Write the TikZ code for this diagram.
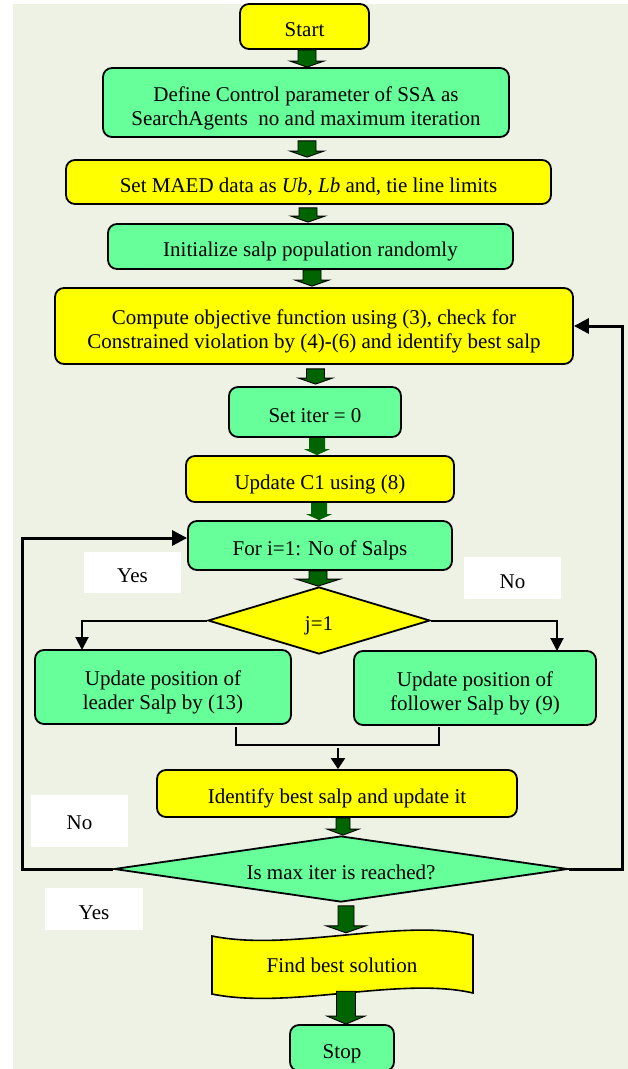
\documentclass[tikz,border=0pt]{standalone}
\usepackage{fontspec}
\setmainfont{Liberation Serif}
\usetikzlibrary{shapes.geometric,arrows.meta,calc}
\definecolor{bgc}{RGB}{238,242,229}
\definecolor{yel}{RGB}{255,255,0}
\definecolor{grn}{RGB}{102,255,153}
\definecolor{dgrn}{RGB}{0,100,0}
\newcommand\mytop{\rule{0pt}{25pt}}
\newcommand\mytopb{\rule{0pt}{26pt}}
\newcommand\mybot{\rule[-5pt]{0pt}{5pt}}
% block arrow: [style]{x}{from}{to}{shaft half}{head half}{head length}
\newcommand\blockarr[7][draw=black,line width=0.9pt]{%
  \path[fill=dgrn,#1] let \p1=#3, \p2=#4 in
    (#2pt-#5pt,\y1) -- (#2pt+#5pt,\y1) -- (#2pt+#5pt,\y2+#7pt)
    -- (#2pt+#6pt,\y2+#7pt) -- (#2pt,\y2) -- (#2pt-#6pt,\y2+#7pt)
    -- (#2pt-#5pt,\y2+#7pt) -- cycle;}
\begin{document}
\begin{tikzpicture}[x=1pt,y=-1pt,
  txt/.style={font=\fontsize{21}{24}\selectfont, align=center},
  box/.style={txt, draw=black, line width=1.8pt, rounded corners=9pt, inner sep=0pt},
  ybox/.style={box, fill=yel},
  gbox/.style={box, fill=grn},
  dec/.style={txt, diamond, draw=black, line width=1.8pt, inner sep=0pt},
  lab/.style={txt, fill=white, inner sep=0pt},
  loopline/.style={line width=3pt, -{Triangle[length=15pt,width=15pt]}},
  branch/.style={line width=2pt, -{Triangle[length=13pt,width=13pt]}},
  mergeline/.style={line width=1.5pt},
]
\useasboundingbox (0,0) rectangle (628,1069);
\clip (0,0) rectangle (628,1069);
\fill[bgc] (13,4) rectangle (628,1069);

\node[ybox, minimum width=129pt, minimum height=45pt] (start) at (304.5,26.5) {\mytop\mybot Start};
\node[gbox, minimum width=406pt, minimum height=69pt] (define) at (306,102.5) {\mytopb Define Control parameter of SSA as\\ SearchAgents\ \ no and maximum iteration\mybot};
\node[ybox, minimum width=485pt, minimum height=44pt] (maed) at (308.5,182) {\mytop\mybot Set MAED data as \textit{Ub}, \textit{Lb} and, tie line limits};
\node[gbox, minimum width=405pt, minimum height=45pt] (init) at (310.5,246.5) {\mytop\mybot Initialize salp population randomly};
\node[ybox, minimum width=518pt, minimum height=76pt] (compute) at (314,326) {\mytopb Compute objective function using (3), check for\\ Constrained violation by (4)-(6) and identify best salp\mybot};
\node[gbox, minimum width=172pt, minimum height=50pt] (iter) at (315,412) {\mytop\mybot Set iter = 0};
\node[ybox, minimum width=268pt, minimum height=46pt] (c1) at (320,479) {\mytop\mybot Update C1 using (8)};
\node[gbox, minimum width=264pt, minimum height=49pt] (for) at (320,545.5) {\mytop\mybot For i=1: No of Salps};
\node[dec, fill=yel, minimum width=222pt, minimum height=67pt, aspect=3.3] (d1) at (319,620.5) {\mytop\mybot j=1};
\node[gbox, minimum width=256pt, minimum height=74pt] (leader) at (163,687) {\mytopb Update position of\\ leader Salp by (13)\mybot};
\node[gbox, minimum width=242pt, minimum height=74pt] (follower) at (475,688) {\mytopb Update position of\\ follower Salp by (9)\mybot};
\node[ybox, minimum width=360pt, minimum height=47pt] (identify) at (337,793.5) {\mytop\mybot Identify best salp and update it};
\node[dec, fill=grn, minimum width=454pt, minimum height=66pt, aspect=6.9] (d2) at (341,869) {\mytop\mybot Is max iter is reached?};

\draw[line width=1.6pt, fill=yel] (212,936) .. controls (290,952) and (400,918) .. (473,935)
  -- (473,993) .. controls (400,976) and (290,1010) .. (212,994) -- cycle;
\node[txt, minimum width=262pt, minimum height=58pt, inner sep=0pt] (find) at (342,962) {\mytop\mybot Find best solution};
\node[gbox, minimum width=104pt, minimum height=46pt] (stop) at (342,1048) {\mytop\mybot Stop};

\node[lab, minimum width=97pt, minimum height=41pt] (yes1) at (132.5,572.5) {\mytop\mybot Yes};
\node[lab, minimum width=97pt, minimum height=42pt] (no1) at (512.5,578) {\mytop\mybot No};
\node[lab, minimum width=97pt, minimum height=52pt] (no2) at (79.5,821) {\rule{0pt}{21pt}\mybot No};
\node[lab, minimum width=98pt, minimum height=42pt] (yes2) at (94,909) {\mytop\mybot Yes};

% block arrows
\blockarr{307}{(start.south)}{(define.north)}{9}{17}{6}
\blockarr{307}{($(define.south)+(0,3)$)}{($(maed.north)+(0,-2)$)}{9}{17}{6}
\blockarr{308}{($(maed.south)+(0,3)$)}{($(init.north)+(0,-1)$)}{9}{17}{6}
\blockarr{312}{(init.south)}{($(compute.north)+(0,-1)$)}{9}{17}{6}
\blockarr{315.5}{($(compute.south)+(0,4)$)}{($(iter.north)+(0,-2)$)}{9}{17}{6}
\blockarr[]{317}{(iter.south)}{(c1.north)}{8}{13}{6}
\blockarr[]{319}{(c1.south)}{(for.north)}{8}{13}{6}
\blockarr{318}{(for.south)}{(d1.north)}{9}{22}{7}
\blockarr{343}{(identify.south)}{(d2.north)}{7}{16}{6}
\blockarr{346}{($(d2.south)+(0,3)$)}{(find.north)}{8}{20}{7}
\blockarr{346}{(find.south)}{(stop.north)}{9.5}{19}{8}

% branches
\coordinate (bl) at (82,650);
\coordinate (br) at (557,651);
\draw[branch] (d1.west) -| (bl);
\draw[branch] (d1.east) -| (br);

% merge
\coordinate (ml) at (236,727);
\coordinate (mr) at (439,727);
\coordinate (mc) at (338,748);
\draw[mergeline] (ml) -- ++(0,18) -| (mr);
\draw[line width=2pt, -{Triangle[length=11pt,width=14pt]}] (mc) -- (identify.north -| mc);

% loops
\coordinate (L) at (22,538);
\coordinate (R) at (622,326);
\draw[loopline] (d2.west) -| (L) -- (for.west |- L);
\draw[loopline] (d2.east) -| (R) -- (compute.east);
\end{tikzpicture}
\end{document}
